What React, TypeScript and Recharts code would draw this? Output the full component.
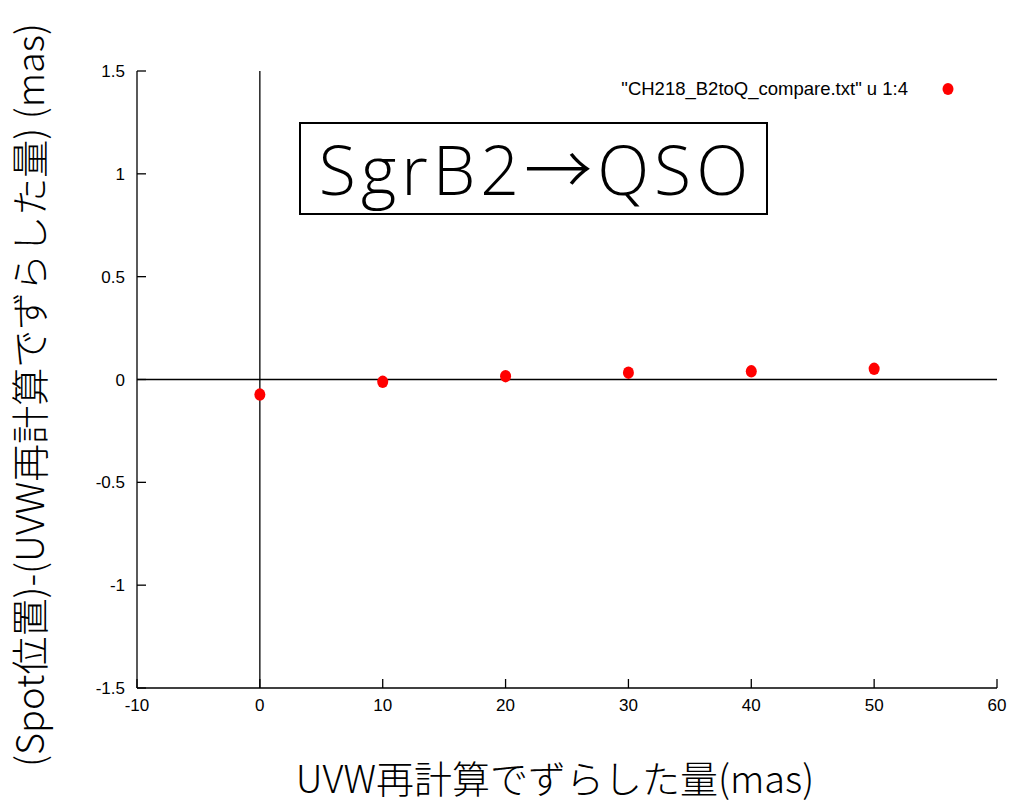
import React from 'react';
import { ScatterChart, Scatter, XAxis, YAxis, ReferenceLine, Legend } from 'recharts';

// UVW recomputation shift (mas) and resulting spot offset (mas)
const shifts = [0, 10, 20, 30, 40, 50];
const offsets = [-0.073, -0.011, 0.016, 0.033, 0.04, 0.052];

const xTicks = [-10, 0, 10, 20, 30, 40, 50, 60];
const yTicks = [-1.5, -1, -0.5, 0, 0.5, 1, 1.5];

const seriesName = '"CH218_B2toQ_compare.txt" u 1:4';
const titleText = 'SgrB2→QSO';
const xLabel = 'UVW再計算でずらした量(mas)';
const yLabel = '(Spot位置)-(UVW再計算でずらした量) (mas)';

const points = shifts.map((x, i) => ({ x, y: offsets[i] }));

const tickFont = { fontFamily: 'Liberation Sans, Arial, sans-serif', fontSize: 17, fill: '#000' };
const labelFont = 'Noto Sans CJK JP, sans-serif';

const Dot = (p: any) => <ellipse cx={p.cx} cy={p.cy} rx={5.5} ry={6.2} fill="#ff0000" />;

const LegendBox = () => (
  <div style={{ display: 'flex', alignItems: 'center', justifyContent: 'flex-end', width: 400 }}>
    <span style={{ fontFamily: 'Liberation Sans, Arial, sans-serif', fontSize: 18.5, color: '#000' }}>{seriesName}</span>
    <svg width={12} height={14} style={{ marginLeft: 34 }}>
      <ellipse cx={6} cy={7} rx={5.5} ry={6} fill="#ff0000" />
    </svg>
  </div>
);

const XTitle = (props: any) => {
  const vb = props.viewBox;
  return (
    <text x={vb.x + vb.width / 2 - 12} y={793} textAnchor="middle" fontFamily={labelFont} fontWeight={300} fontSize={38} fill="#000">
      {xLabel}
    </text>
  );
};

const YTitle = () => {
  const cy = 395;
  const cx = 44;
  return (
    <text x={cx} y={cy} transform={`rotate(-90 ${cx} ${cy})`} textAnchor="middle" fontFamily={labelFont} fontWeight={300} fontSize={38} fill="#000">
      {yLabel}
    </text>
  );
};

export default function App() {
  return (
    <div style={{ position: 'absolute', left: 0, top: 0, width: 1009, height: 803, background: '#fff' }}>
      <ScatterChart width={1009} height={803} margin={{ top: 71, right: 12, bottom: 85, left: 77 }}>
        <XAxis
          xAxisId="b"
          type="number"
          dataKey="x"
          domain={[-10, 60]}
          ticks={xTicks}
          allowDataOverflow
          height={30}
          tickSize={-9}
          tickMargin={20}
          tick={tickFont}
          axisLine={{ stroke: '#000', strokeWidth: 1.3 }}
          tickLine={{ stroke: '#000', strokeWidth: 1.3 }}
          label={<XTitle />}
        />
        <XAxis
          xAxisId="t"
          orientation="top"
          type="number"
          dataKey="x"
          domain={[-10, 60]}
          ticks={xTicks}
          allowDataOverflow
          height={0}
          tickSize={-9}
          tick={false}
          axisLine={{ stroke: '#000', strokeWidth: 1.3 }}
          tickLine={{ stroke: '#000', strokeWidth: 1.3 }}
        />
        <YAxis
          yAxisId="l"
          type="number"
          dataKey="y"
          domain={[-1.5, 1.5]}
          ticks={yTicks}
          allowDataOverflow
          width={60}
          tickSize={-9}
          tickMargin={21}
          tick={tickFont}
          axisLine={{ stroke: '#000', strokeWidth: 1.3 }}
          tickLine={{ stroke: '#000', strokeWidth: 1.3 }}
          label={<YTitle />}
        />
        <YAxis
          yAxisId="r"
          orientation="right"
          type="number"
          dataKey="y"
          domain={[-1.5, 1.5]}
          ticks={yTicks}
          allowDataOverflow
          width={0}
          tickSize={-9}
          tick={false}
          axisLine={{ stroke: '#000', strokeWidth: 1.3 }}
          tickLine={{ stroke: '#000', strokeWidth: 1.3 }}
        />
        <ReferenceLine xAxisId="b" yAxisId="l" y={0} stroke="#000" strokeWidth={1.3} />
        <ReferenceLine xAxisId="b" yAxisId="l" x={0} stroke="#000" strokeWidth={1.3} />
        <Scatter
          xAxisId="b"
          yAxisId="l"
          name={seriesName}
          data={points}
          fill="#ff0000"
          shape={<Dot />}
          isAnimationActive={false}
        />
        <Legend
          layout="horizontal"
          verticalAlign="middle"
          content={<LegendBox />}
          wrapperStyle={{ position: 'absolute', left: 554, top: 78, width: 400 }}
        />
      </ScatterChart>
      <div
        style={{
          position: 'absolute',
          left: 299,
          top: 122,
          width: 469,
          height: 93,
          boxSizing: 'border-box',
          border: '2px solid #000',
          background: '#fff',
          display: 'flex',
          alignItems: 'center',
          justifyContent: 'center',
          fontFamily: 'Open Sans, Noto Sans CJK JP, sans-serif',
          fontWeight: 300,
          fontSize: 68,
          letterSpacing: 5,
          paddingLeft: 5,
          color: '#000',
          lineHeight: 1,
        }}
      >
        {titleText}
      </div>
    </div>
  );
}
